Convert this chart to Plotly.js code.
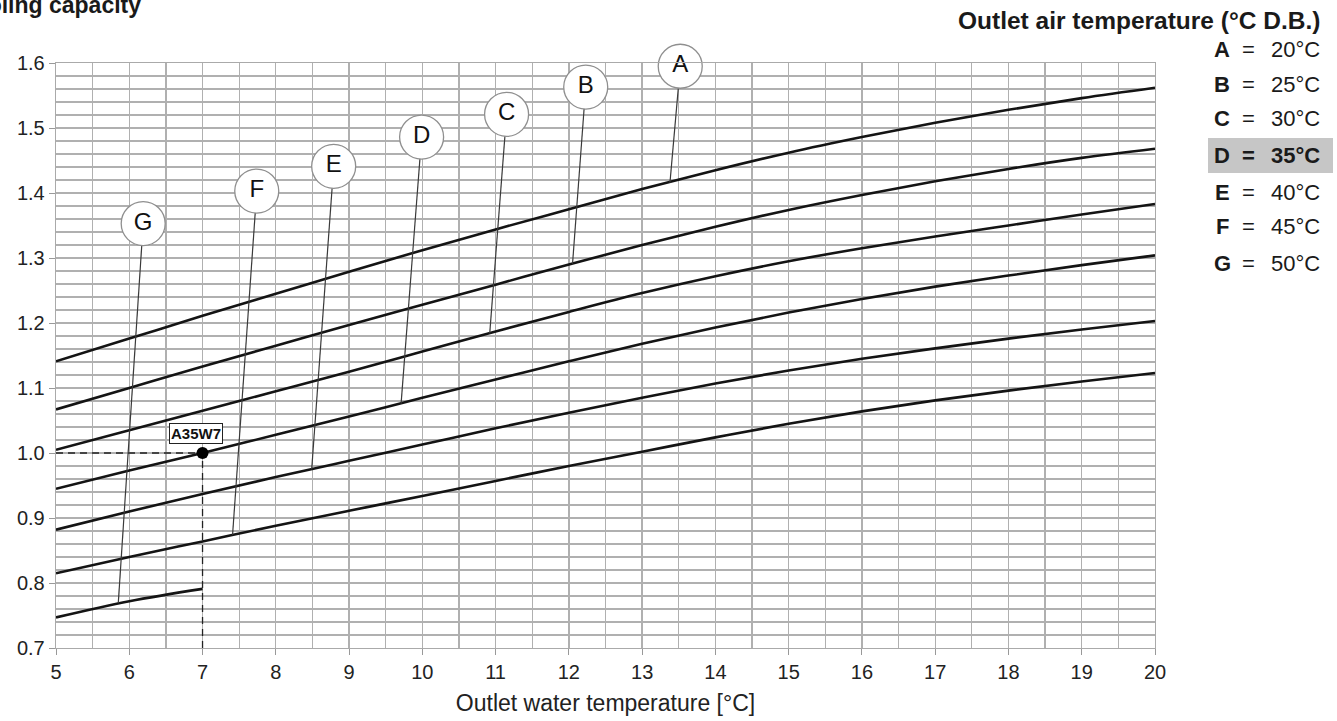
<!DOCTYPE html>
<html>
<head>
<meta charset="utf-8">
<script src="https://cdn.plot.ly/plotly-3.0.1.min.js"></script>
<style>
html,body{margin:0;padding:0;background:#fff;}
#chart{width:1337px;height:721px;}
</style>
</head>
<body>
<div id="chart"></div>
<script>
// ---- data ----
const xWater = [5,6,7,8,9,10,11,12,13,14,15,16,17,18,19,20];
const capA = [1.141,1.176,1.211,1.245,1.279,1.312,1.344,1.375,1.406,1.435,1.462,1.486,1.508,1.528,1.546,1.562];
const capB = [1.067,1.100,1.133,1.165,1.197,1.228,1.259,1.290,1.320,1.348,1.374,1.397,1.418,1.437,1.454,1.468];
const capC = [1.005,1.035,1.065,1.095,1.125,1.156,1.187,1.217,1.246,1.272,1.295,1.315,1.333,1.350,1.367,1.383];
const capD = [0.945,0.973,1.000,1.028,1.056,1.085,1.113,1.141,1.168,1.193,1.216,1.237,1.256,1.273,1.289,1.304];
const capE = [0.882,0.910,0.937,0.963,0.988,1.013,1.038,1.062,1.085,1.107,1.127,1.145,1.161,1.176,1.190,1.203];
const capF = [0.815,0.840,0.864,0.888,0.911,0.934,0.957,0.980,1.002,1.024,1.045,1.064,1.081,1.096,1.110,1.123];
const xWaterG = [5,6,7];
const capG = [0.747,0.772,0.791];

const curveLetters = ['A','B','C','D','E','F','G'];
const airTemps = ['20°C','25°C','30°C','35°C','40°C','45°C','50°C'];
const bubbleX = [13.52,12.23,11.15,9.99,8.79,7.74,6.19];
const bubbleY = [1.595,1.563,1.521,1.486,1.441,1.403,1.353];
const leaderEndX = [13.38,12.05,10.92,9.71,8.49,7.41,5.85];
const leaderEndY = [1.416,1.291,1.184,1.076,0.975,0.874,0.769];

const refPointX = [7];
const refPointY = [1.0];
const refLabel = 'A35W7';
const axisMinX = 5, axisMinY = 0.7;

const chartTitle = 'Cooling capacity';
const xTitle = 'Outlet water temperature [°C]';
const legendTitle = 'Outlet air temperature (°C D.B.)';
const highlighted = 'D';

// ---- traces ----
const FONT = 'Liberation Sans, Arial, sans-serif';
const curves = [capA,capB,capC,capD,capE,capF];
const traces = [];
const curveLine = {color:'#141414', width:2.6, shape:'spline', smoothing:1};
curves.forEach(c => traces.push({
  x: xWater, y: c, mode:'lines', type:'scatter', hoverinfo:'skip', line:curveLine
}));
traces.push({x: xWaterG, y: capG, mode:'lines', type:'scatter', hoverinfo:'skip', line:curveLine});

// dashed reference lines
traces.push({x:[axisMinX, refPointX[0]], y:[refPointY[0], refPointY[0]], mode:'lines', hoverinfo:'skip',
  line:{color:'#222', width:1.3, dash:'7px,5px'}});
traces.push({x:[refPointX[0], refPointX[0]], y:[axisMinY, refPointY[0]], mode:'lines', hoverinfo:'skip',
  line:{color:'#222', width:1.3, dash:'7px,5px'}});

// leader lines
curveLetters.forEach((l,i) => traces.push({
  x:[bubbleX[i], leaderEndX[i]], y:[bubbleY[i], leaderEndY[i]], mode:'lines', hoverinfo:'skip',
  line:{color:'#3a3a3a', width:1.2}
}));
// bubbles
traces.push({
  x: bubbleX, y: bubbleY, text: curveLetters, mode:'markers+text', type:'scatter',
  cliponaxis:false, hoverinfo:'skip', textposition:'middle center',
  marker:{size:44, color:'#ffffff', line:{color:'#8f8f8f', width:1.3}},
  textfont:{family:FONT, size:24, color:'#111'}
});
// reference point
traces.push({x: refPointX, y: refPointY, mode:'markers', hoverinfo:'skip', cliponaxis:false,
  marker:{size:12, color:'#000'}});

// ---- layout helpers ----
const W = 1337, H = 721;
const M = {l:56, r:182, t:63, b:73};
const PW = W - M.l - M.r, PH = H - M.t - M.b;
const px2paperX = p => (p - M.l) / PW;
const px2paperY = p => (H - M.b - p) / PH;

const annotations = [];
annotations.push({xref:'paper', yref:'paper', x:px2paperX(143), y:px2paperY(5),
  xanchor:'right', yanchor:'middle', showarrow:false, text:'<b>'+chartTitle+'</b>',
  font:{family:FONT, size:23, color:'#1a1a1a'}});
annotations.push({xref:'paper', yref:'paper', x:px2paperX(1322), y:px2paperY(20),
  xanchor:'right', yanchor:'middle', showarrow:false, text:'<b>'+legendTitle+'</b>',
  font:{family:FONT, size:24.5, color:'#1a1a1a'}});
const rowY = [49,85,118,155,192,226,263];
curveLetters.forEach((l,i) => {
  const hl = l === highlighted;
  annotations.push({xref:'paper', yref:'paper', x:px2paperX(1222), y:px2paperY(rowY[i]),
    xanchor:'center', yanchor:'middle', showarrow:false, text:'<b>'+l+'</b>',
    font:{family:FONT, size:22, color:'#1a1a1a'}});
  annotations.push({xref:'paper', yref:'paper', x:px2paperX(1248), y:px2paperY(rowY[i]),
    xanchor:'center', yanchor:'middle', showarrow:false, text: hl ? '<b>=</b>' : '=',
    font:{family:FONT, size:22, color:'#1a1a1a'}});
  annotations.push({xref:'paper', yref:'paper', x:px2paperX(1322), y:px2paperY(rowY[i]),
    xanchor:'right', yanchor:'middle', showarrow:false, text: hl ? '<b>'+airTemps[i]+'</b>' : airTemps[i],
    font:{family:FONT, size:22, color:'#1a1a1a'}});
});
annotations.push({x:6.915, y:1.0296, xref:'x', yref:'y', showarrow:false,
  text:'<b>'+refLabel+'</b>', font:{family:FONT, size:15, color:'#111'},
  bgcolor:'#fff', bordercolor:'#222', borderwidth:1, borderpad:1});

const shapes = [{type:'rect', xref:'paper', yref:'paper', layer:'below',
  x0:px2paperX(1208), x1:px2paperX(1333), y0:px2paperY(173), y1:px2paperY(138),
  fillcolor:'#c6c6c6', line:{width:0}}];

const gridCol = '#b0b0b0';
const layout = {
  width:W, height:H, margin:M, showlegend:false,
  paper_bgcolor:'#fff', plot_bgcolor:'#fff',
  font:{family:FONT, color:'#222'},
  xaxis:{range:[5,20], tick0:5, dtick:1, showgrid:true, gridcolor:gridCol, gridwidth:1.3,
    minor:{dtick:0.5, showgrid:true, gridcolor:gridCol, gridwidth:1.3},
    ticks:'outside', ticklen:6, tickcolor:'#999', showline:true, linecolor:'#aaa', linewidth:1.3, mirror:true,
    zeroline:false, tickfont:{family:FONT, size:20, color:'#222'},
    title:{text:xTitle, font:{family:FONT, size:23, color:'#222'}, standoff:12}},
  yaxis:{range:[0.7,1.6], tick0:0.7, dtick:0.1, tickformat:'.1f', showgrid:true, gridcolor:gridCol, gridwidth:1.3,
    minor:{dtick:0.02, showgrid:true, gridcolor:gridCol, gridwidth:1.3},
    ticks:'outside', ticklen:6, tickcolor:'#999', showline:true, linecolor:'#aaa', linewidth:1.3, mirror:true,
    zeroline:false, tickfont:{family:FONT, size:20, color:'#222'}},
  annotations: annotations, shapes: shapes
};
Plotly.newPlot('chart', traces, layout, {staticPlot:true, displayModeBar:false});
</script>
</body>
</html>
